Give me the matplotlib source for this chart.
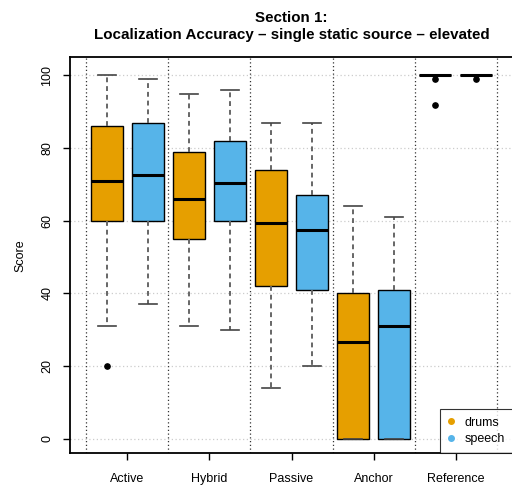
import matplotlib
matplotlib.use("Agg")
import matplotlib.pyplot as plt
from matplotlib.lines import Line2D

plt.rcParams['font.family'] = ['Liberation Sans', 'DejaVu Sans']

categories = ["Active", "Hybrid", "Passive", "Anchor", "Reference"]
series = ["drums", "speech"]
colors = {"drums": "#E69F00", "speech": "#56B4E9"}

# per-category stats: [drums, speech]
q1 = {"drums": [60, 55, 42, 0, 100], "speech": [60, 60, 41, 0, 100]}
med = {"drums": [71, 66, 59.5, 26.5, 100], "speech": [72.5, 70.5, 57.5, 31, 100]}
q3 = {"drums": [86, 79, 74, 40, 100], "speech": [87, 82, 67, 41, 100]}
whislo = {"drums": [31, 31, 14, 0, 100], "speech": [37, 30, 20, 0, 100]}
whishi = {"drums": [100, 95, 87, 64, 100], "speech": [99, 96, 87, 61, 100]}
fliers = {"drums": [[20], [], [], [], [99, 92]], "speech": [[], [], [], [], [99]]}

fig = plt.figure(figsize=(5.12, 4.88), dpi=100)
ax = fig.add_axes([70/512, 34.7/488, 443/512, 396/488])

offsets = {"drums": -0.25, "speech": 0.25}
for s in series:
    stats = []
    for i in range(len(categories)):
        stats.append(dict(med=med[s][i], q1=q1[s][i], q3=q3[s][i],
                          whislo=whislo[s][i], whishi=whishi[s][i],
                          fliers=fliers[s][i]))
    pos = [i + 1 + offsets[s] for i in range(len(categories))]
    ax.bxp(stats, positions=pos, widths=0.4, patch_artist=True,
           manage_ticks=False, capwidths=0.22,
           boxprops=dict(facecolor=colors[s], edgecolor="black", linewidth=1.0),
           medianprops=dict(color="black", linewidth=2.2, solid_capstyle="butt"),
           whiskerprops=dict(color="#666666", linestyle=(0, (2.5, 2)), linewidth=1.4),
           capprops=dict(color="#444444", linewidth=1.2),
           flierprops=dict(marker="o", markerfacecolor="black", markeredgecolor="black",
                           markersize=3.8, linestyle="none"),
           zorder=3)

ax.set_xlim(0.3, 5.7)
ax.set_ylim(-4, 105)

yt = [0, 20, 40, 60, 80, 100]
for y in yt:
    ax.axhline(y, color="#cccccc", linestyle=(0, (1, 2)), linewidth=0.9, zorder=1)
for x in [0.5, 1.5, 2.5, 3.5, 4.5, 5.5]:
    ax.axvline(x, color="#333333", linestyle=(0, (1, 2)), linewidth=0.9, zorder=1)

ax.set_yticks(yt)
ax.set_yticklabels([str(v) for v in yt], rotation=90, va="center")
ax.set_xticks(range(1, len(categories) + 1))
ax.set_xticklabels(categories)
ax.tick_params(axis="both", labelsize=9, length=5, width=1, colors="black")
ax.tick_params(axis="x", pad=9)
ax.tick_params(axis="y", pad=7)
for sp in ax.spines.values():
    sp.set_linewidth(1.3)
ax.spines["right"].set_visible(False)

ax.set_ylabel("Score", fontsize=9, labelpad=11)
ax.set_title("Section 1:\nLocalization Accuracy \u2013 single static source \u2013 elevated",
             fontsize=10.9, fontweight="bold", pad=13, linespacing=1.25)

handles = [Line2D([0], [0], marker="o", color="none", markerfacecolor=colors[s],
                  markeredgecolor=colors[s], markersize=4, label=s) for s in series]
leg = ax.legend(handles=handles, loc="lower right", fontsize=9, frameon=True,
                fancybox=False, borderaxespad=0, handlelength=0.5, handletextpad=0.8,
                borderpad=0.65, labelspacing=0.35)
leg.get_frame().set_edgecolor("black")
leg.get_frame().set_linewidth(0.8)
leg.set_zorder(5)

fig.savefig("out.png", dpi=100)
